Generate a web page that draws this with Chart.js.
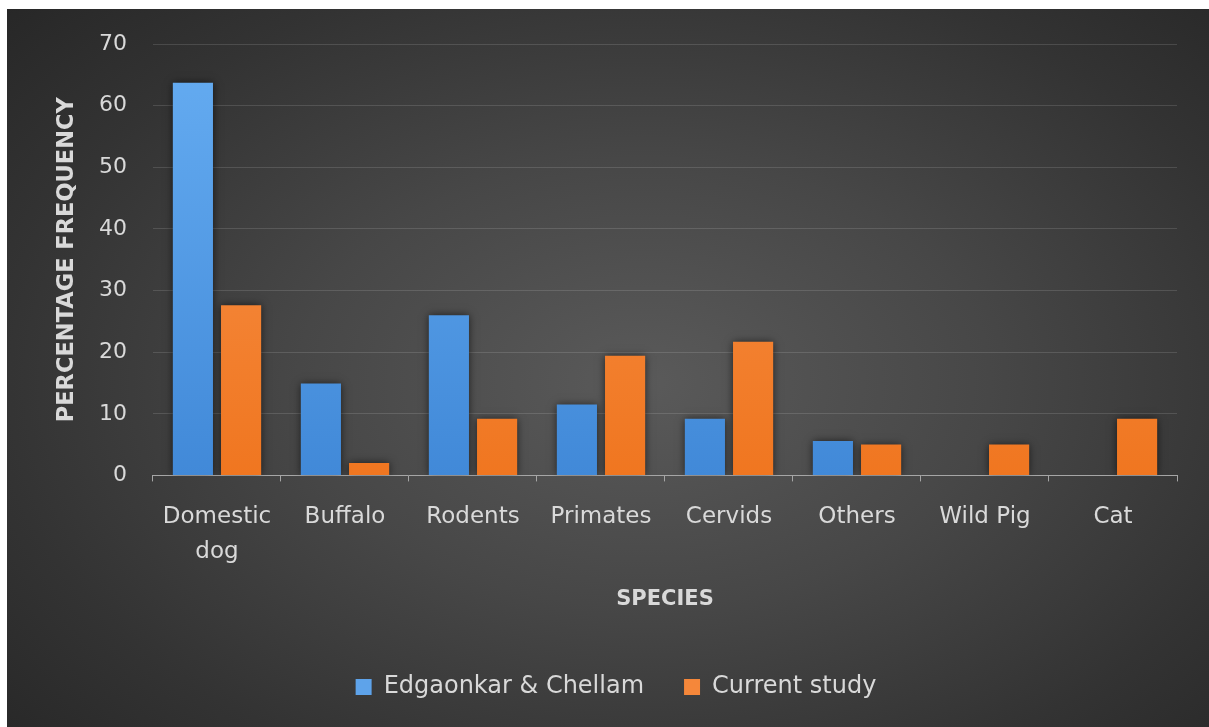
<!DOCTYPE html>
<html>
<head>
<meta charset="utf-8">
<script src="https://cdn.jsdelivr.net/npm/chart.js@4.4.1/dist/chart.umd.min.js"></script>
<style>
  html, body { margin: 0; padding: 0; background: #ffffff; width: 1209px; height: 727px; overflow: hidden; }
  #wrap {
    position: absolute; left: 7px; top: 9px; width: 1202px; height: 718px;
    background: radial-gradient(ellipse 72% 78% at 53% 52%, #5a5a5a 0%, #474747 40%, #333333 75%, #272727 100%);
  }
  canvas { display: block; }
</style>
</head>
<body>
<div id="wrap"><canvas id="c" width="1202" height="718"></canvas></div>
<script>
// ---- data ----
const categories = [['Domestic', 'dog'], 'Buffalo', 'Rodents', 'Primates', 'Cervids', 'Others', 'Wild Pig', 'Cat'];
const edgaonkarChellam = [63.7, 14.9, 26.0, 11.5, 9.2, 5.6, 0, 0];
const currentStudy = [27.6, 2.0, 9.2, 19.4, 21.7, 5.0, 5.0, 9.2];
const seriesNames = ['Edgaonkar & Chellam', 'Current study'];
const yMin = 0, yMax = 70, yStep = 10;
const xTitle = 'SPECIES';
const yTitle = 'PERCENTAGE FREQUENCY';

const textColor = '#d9d9d9';
const FONT = "'DejaVu Sans', sans-serif";

function grad(chart, top, bottom) {
  const area = chart.chartArea;
  if (!area) return bottom;
  const g = chart.ctx.createLinearGradient(0, area.top, 0, area.bottom);
  g.addColorStop(0, top);
  g.addColorStop(1, bottom);
  return g;
}

const shadowPlugin = {
  id: 'barShadow',
  beforeDatasetsDraw(chart) {
    const c = chart.ctx;
    c.save();
    c.shadowColor = 'rgba(0,0,0,0.6)';
    c.shadowBlur = 8;
    c.shadowOffsetX = 0;
    c.shadowOffsetY = 0;
  },
  afterDatasetsDraw(chart) { chart.ctx.restore(); }
};

new Chart(document.getElementById('c'), {
  type: 'bar',
  data: {
    labels: categories,
    datasets: [
      {
        label: seriesNames[0],
        data: edgaonkarChellam,
        backgroundColor: (ctx) => grad(ctx.chart, '#66adf2', '#4189d8'),
        borderWidth: 0,
        categoryPercentage: 0.753,
        barPercentage: 0.833
      },
      {
        label: seriesNames[1],
        data: currentStudy,
        backgroundColor: (ctx) => grad(ctx.chart, '#f8954f', '#f07620'),
        borderWidth: 0,
        categoryPercentage: 0.753,
        barPercentage: 0.833
      }
    ]
  },
  options: {
    responsive: false,
    animation: false,
    layout: { padding: { left: 48, right: 32, top: 35, bottom: 18 } },
    plugins: {
      tooltip: { enabled: false },
      legend: {
        position: 'bottom',
        labels: {
          color: textColor,
          font: { family: FONT, size: 24 },
          boxWidth: 16,
          boxHeight: 16,
          padding: 40,
          generateLabels: (chart) => {
            const solid = ['#5ea3ea', '#f5873a'];
            return chart.data.datasets.map((ds, i) => ({
              text: ds.label,
              fillStyle: solid[i],
              strokeStyle: solid[i],
              lineWidth: 0,
              hidden: false,
              datasetIndex: i,
              fontColor: textColor
            }));
          }
        }
      }
    },
    scales: {
      x: {
        grid: {
          display: true,
          drawOnChartArea: false,
          drawTicks: true,
          tickLength: 6,
          color: '#a6a6a6',
          offset: true
        },
        border: { display: true, color: '#a6a6a6', width: 1 },
        ticks: {
          color: textColor,
          font: { family: FONT, size: 23, lineHeight: 1.53 },
          padding: 18,
          maxRotation: 0,
          autoSkip: false
        },
        title: {
          display: true,
          text: xTitle,
          color: textColor,
          font: { family: FONT, size: 21, weight: 'bold', lineHeight: 1.2 },
          padding: { top: -1, bottom: 23 }
        }
      },
      y: {
        min: yMin,
        max: yMax,
        grid: {
          color: 'rgba(255,255,255,0.13)',
          drawTicks: false,
          lineWidth: 1
        },
        border: { display: false },
        ticks: {
          stepSize: yStep,
          color: textColor,
          font: { family: FONT, size: 22, lineHeight: 0.8 },
          padding: 26
        },
        title: {
          display: true,
          text: yTitle,
          color: textColor,
          font: { family: FONT, size: 22.5, weight: 'bold', lineHeight: 1.2 },
          padding: { top: -1.5, bottom: -7.5 }
        }
      }
    }
  },
  plugins: [shadowPlugin]
});
</script>
</body>
</html>
